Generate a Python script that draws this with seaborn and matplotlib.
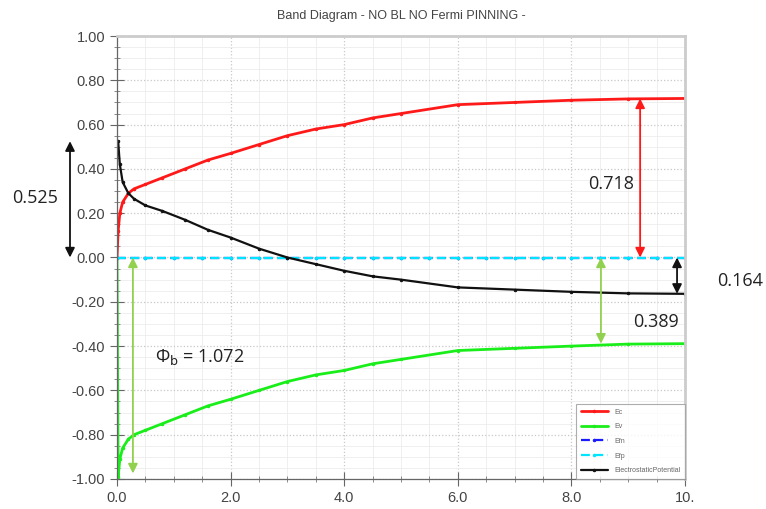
import matplotlib
matplotlib.use('Agg')
import matplotlib.pyplot as plt
import matplotlib.transforms as mtransforms
from matplotlib.ticker import MultipleLocator
import seaborn as sns
import pandas as pd

# Band diagram data
ec_x = [0.0, 0.02, 0.05, 0.1, 0.2, 0.3, 0.5, 0.8, 1.2, 1.6, 2.0, 2.5, 3.0, 3.5, 4.0, 4.5, 5.0, 6.0, 7.0, 8.0, 9.0, 10.0]
ec = [0.0, 0.12, 0.2, 0.25, 0.29, 0.31, 0.33, 0.36, 0.40, 0.44, 0.47, 0.51, 0.55, 0.58, 0.60, 0.63, 0.65, 0.69, 0.70, 0.71, 0.716, 0.718]
ev = [0.0, -0.99, -0.91, -0.86, -0.82, -0.80, -0.78, -0.75, -0.71, -0.67, -0.64, -0.60, -0.56, -0.53, -0.51, -0.48, -0.46, -0.42, -0.41, -0.40, -0.391, -0.389]

pot_x = [0.02, 0.05, 0.1, 0.2, 0.3, 0.5, 0.8, 1.2, 1.6, 2.0, 2.5, 3.0, 3.5, 4.0, 4.5, 5.0, 6.0, 7.0, 8.0, 9.0, 10.0]
pot = [0.525, 0.42, 0.34, 0.29, 0.265, 0.235, 0.21, 0.17, 0.125, 0.09, 0.04, 0.0, -0.03, -0.06, -0.085, -0.10, -0.135, -0.145, -0.155, -0.162, -0.164]

ef_x = [0.0, 0.5, 1.0, 1.5, 2.0, 2.5, 3.0, 3.5, 4.0, 4.5, 5.0, 5.5, 6.0, 6.5, 7.0, 7.5, 8.0, 8.5, 9.0, 9.5, 10.0]
efn = [0.0, 0.0, 0.0, 0.0, 0.0, 0.0, 0.0, 0.0, 0.0, 0.0, 0.0, 0.0, 0.0, 0.0, 0.0, 0.0, 0.0, 0.0, 0.0, 0.0, 0.0]
efp = [0.0, 0.0, 0.0, 0.0, 0.0, 0.0, 0.0, 0.0, 0.0, 0.0, 0.0, 0.0, 0.0, 0.0, 0.0, 0.0, 0.0, 0.0, 0.0, 0.0, 0.0]

x_ticks = [0, 2, 4, 6, 8, 10]
x_labels = ['0.0', '2.0', '4.0', '6.0', '8.0', '10.']

sns.set_style('white')
plt.rcParams['font.family'] = ['Liberation Sans', 'DejaVu Sans']
plt.rcParams['axes.unicode_minus'] = False

fig = plt.figure(figsize=(7.66, 5.09), dpi=100)
ax = fig.add_axes([117 / 766, 1 - 479 / 509, (685 - 117) / 766, (479 - 36) / 509])

df_ec = pd.DataFrame({'x': ec_x, 'y': ec})
df_ev = pd.DataFrame({'x': ec_x, 'y': ev})
df_efn = pd.DataFrame({'x': ef_x, 'y': efn})
df_efp = pd.DataFrame({'x': ef_x, 'y': efp})
df_pot = pd.DataFrame({'x': pot_x, 'y': pot})

series = [
    (df_ec, '#ff1a1a', 2.0, '-', 'Ec'),
    (df_ev, '#1aee1a', 2.0, '-', 'Ev'),
    (df_efn, '#1a1aff', 1.6, (0, (4, 2)), 'Efn'),
    (df_efp, '#00e5ff', 1.6, (0, (4, 2)), 'Efp'),
    (df_pot, '#111111', 1.6, '-', 'ElectrostaticPotential'),
]
for d, c, lw, ls, name in series:
    sns.lineplot(data=d, x='x', y='y', ax=ax, color=c, lw=lw, linestyle=ls,
                 marker='.', ms=3.5, mec=c, mfc=c, label=name)

ax.set_xlim(0, 10)
ax.set_ylim(-1, 1)
ax.set_xlabel('')
ax.set_ylabel('')
ax.set_xticks(x_ticks)
ax.set_xticklabels(x_labels)
ax.yaxis.set_major_locator(MultipleLocator(0.2))
ax.yaxis.set_major_formatter('{x:.2f}')
ax.xaxis.set_minor_locator(MultipleLocator(0.5))
ax.yaxis.set_minor_locator(MultipleLocator(0.05))
ax.grid(which='major', color='#c8c8c8', linestyle=':', lw=0.9)
ax.grid(which='minor', color='#ececec', linestyle='-', lw=0.6)
ax.set_axisbelow(True)
ax.tick_params(which='major', direction='inout', length=10, width=0.8, color='#666666',
               labelsize=10.5, labelcolor='#444444', left=True, bottom=True)
ax.tick_params(which='minor', direction='inout', length=4, width=0.6, color='#777777',
               left=True, bottom=True)
for side in ['left', 'bottom']:
    ax.spines[side].set_color('#666666')
    ax.spines[side].set_linewidth(0.9)
for side in ['top', 'right']:
    ax.spines[side].set_color('#cccccc')
    ax.spines[side].set_linewidth(2)

ax.set_title('Band Diagram - NO BL NO Fermi PINNING -', fontsize=9, color='#444444', pad=12)

leg = ax.legend(loc='lower right', fontsize=5, frameon=True, fancybox=False,
                borderaxespad=0, handlelength=4, labelspacing=1.1, borderpad=0.7)
leg.get_frame().set_edgecolor('#999999')
leg.get_frame().set_linewidth(0.8)
for t in leg.get_texts():
    t.set_color('#666666')

# Annotations
ann_font = dict(fontsize=13, color='#222222', family=['Open Sans', 'DejaVu Sans'])
lgreen = '#92d050'
blend = mtransforms.blended_transform_factory(fig.transFigure, ax.transData)

def double_arrow(x, y0, y1, color, transform):
    ax.annotate('', xy=(x, y1), xytext=(x, y0), xycoords=transform, textcoords=transform,
                annotation_clip=False,
                arrowprops=dict(arrowstyle='<|-|>', color=color, lw=1.3,
                                mutation_scale=14, shrinkA=0, shrinkB=0))

double_arrow(70 / 766, 0.525, 0.0, '#111111', blend)
ax.text(35 / 766, 0.27, '0.525', transform=blend, ha='center', va='center', **ann_font)

double_arrow(9.21, 0.718, 0.0, '#ff1a1a', ax.transData)
ax.text(8.70, 0.334, '0.718', ha='center', va='center', **ann_font)

double_arrow(8.52, 0.0, -0.389, lgreen, ax.transData)
ax.text(9.49, -0.289, '0.389', ha='center', va='center', **ann_font)

double_arrow(9.86, 0.0, -0.164, '#111111', ax.transData)
ax.text(740 / 766, -0.104, '0.164', transform=blend, ha='center', va='center', **ann_font)

double_arrow(0.28, 0.0, -0.975, lgreen, ax.transData)
ax.text(1.46, -0.45, r'Φ$_\mathrm{b}$ = 1.072', ha='center', va='center', **ann_font)

fig.savefig('out.png', dpi=100)
